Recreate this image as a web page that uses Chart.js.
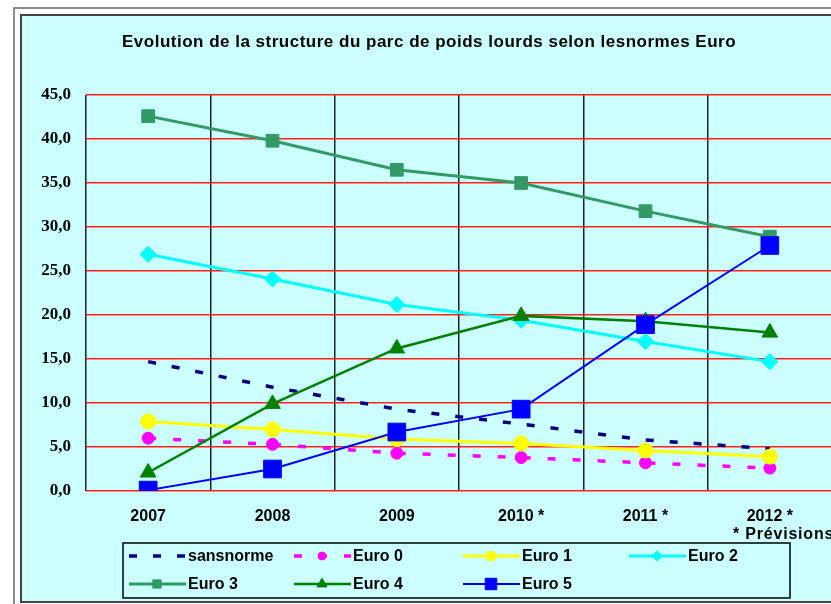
<!DOCTYPE html>
<html>
<head>
<meta charset="utf-8">
<script src="https://cdn.jsdelivr.net/npm/chart.js@4.4.0/dist/chart.umd.min.js"></script>
<style>
  html, body { margin: 0; padding: 0; overflow: hidden; background: #fff; }
  #wrap { width: 850px; height: 604px; }
</style>
</head>
<body>
<div id="wrap"><canvas id="myChart" width="850" height="604"></canvas></div>
<script>
// categories + values
const years = ['2007', '2008', '2009', '2010 *', '2011 *', '2012 *'];
const sansNorme = [14.7, 11.8, 9.3, 7.6, 5.8, 4.8];
const euro0 = [6.0, 5.3, 4.3, 3.8, 3.2, 2.6];
const euro1 = [7.9, 7.0, 5.9, 5.4, 4.6, 3.9];
const euro2 = [26.9, 24.1, 21.2, 19.4, 17.0, 14.7];
const euro3 = [42.6, 39.8, 36.5, 35.0, 31.8, 28.9];
const euro4 = [2.1, 9.9, 16.2, 19.9, 19.3, 18.0];
const euro5 = [0.1, 2.5, 6.7, 9.3, 18.9, 27.9];
const yTicks = [0, 5, 10, 15, 20, 25, 30, 35, 40, 45];

const title = 'Evolution de la structure du parc de poids lourds selon lesnormes Euro';
const note = '* Prévisions';

const mkSet = (label, data, color, width, style, radius, dash) => ({
  label: label,
  data: data,
  borderColor: color,
  backgroundColor: color,
  borderWidth: width,
  borderDash: dash || [],
  pointStyle: style,
  pointRadius: radius,
  pointHoverRadius: radius,
  pointBorderWidth: 1,
  tension: 0,
  fill: false
});

const datasets = [
  mkSet('sansnorme', sansNorme, '#000080', 3.5, false, 0, [8, 16]),
  mkSet('Euro 0', euro0, '#ff00ff', 3.5, 'circle', 6, [8, 17]),
  mkSet('Euro 1', euro1, '#ffff00', 3, 'circle', 7.5),
  mkSet('Euro 2', euro2, '#00ffff', 3, 'rectRot', 8),
  mkSet('Euro 3', euro3, '#339966', 3, 'rect', 9),
  mkSet('Euro 4', euro4, '#008000', 2.5, 'triangle', 9),
  mkSet('Euro 5', euro5, '#0000ff', 2, 'rect', 12.5)
];
// later series on top, like the original
datasets.forEach((d, i) => { d.order = -i; });

const legendPos = [[129, 556], [294, 556], [463, 556], [629, 556], [129, 584], [294, 584], [463, 584]];

const framePlugin = {
  id: 'frame',
  beforeDraw(chart) {
    const ctx = chart.ctx;
    ctx.save();
    ctx.fillStyle = '#fff';
    ctx.fillRect(0, 0, chart.width, chart.height);
    ctx.strokeStyle = '#666';
    ctx.lineWidth = 1.5;
    ctx.strokeRect(14, 8, 900, 700);
    ctx.fillStyle = '#ccffff';
    ctx.fillRect(21, 15, 900, 587);
    ctx.strokeStyle = '#444';
    ctx.lineWidth = 2;
    ctx.strokeRect(21, 15, 900, 587);
    ctx.fillStyle = '#000';
    ctx.font = 'bold 17px "Liberation Sans", Arial, sans-serif';
    ctx.letterSpacing = '0.5px';
    ctx.textAlign = 'left';
    ctx.textBaseline = 'alphabetic';
    ctx.fillText(title, 122, 47);
    ctx.restore();
  },
  afterDraw(chart) {
    const ctx = chart.ctx;
    ctx.save();
    ctx.fillStyle = '#000';
    ctx.font = 'bold 16px "Liberation Sans", Arial, sans-serif';
    ctx.letterSpacing = '0.8px';
    ctx.textBaseline = 'alphabetic';
    ctx.fillText(note, 733, 539);
    ctx.letterSpacing = '0px';

    ctx.strokeStyle = '#000';
    ctx.lineWidth = 1.5;
    ctx.setLineDash([]);
    ctx.strokeRect(123, 543, 667, 55);

    chart.data.datasets.forEach((ds, i) => {
      const [x, y] = legendPos[i];
      ctx.strokeStyle = ds.borderColor;
      ctx.fillStyle = ds.borderColor;
      ctx.lineWidth = ds.borderWidth;
      ctx.setLineDash(ds.borderDash);
      ctx.beginPath();
      ctx.moveTo(x, y);
      ctx.lineTo(x + 57, y);
      ctx.stroke();
      ctx.setLineDash([]);
      if (ds.pointRadius > 0) {
        ctx.lineWidth = 1;
        Chart.helpers.drawPoint(ctx, {
          pointStyle: ds.pointStyle,
          radius: ds.pointRadius * 0.65,
          rotation: 0,
          borderWidth: 1
        }, x + 28, y);
      }
      ctx.fillStyle = '#000';
      ctx.font = 'bold 16px "Liberation Sans", Arial, sans-serif';
      ctx.textBaseline = 'middle';
      ctx.fillText(ds.label, x + 59, y + 1);
    });
    ctx.restore();
  }
};

const creatingChart = () => {
  const ctx = document.getElementById('myChart').getContext('2d');
  new Chart(ctx, {
    type: 'line',
    data: { labels: years, datasets: datasets },
    options: {
      responsive: false,
      animation: false,
      devicePixelRatio: 1,
      layout: { padding: { left: 0, top: 95, right: 18, bottom: 0 } },
      plugins: {
        legend: { display: false },
        title: { display: false },
        tooltip: { enabled: false }
      },
      scales: {
        x: {
          offset: true,
          grid: { offset: true, color: '#222', lineWidth: 1.5, drawTicks: false },
          border: { display: false },
          ticks: {
            color: '#000',
            padding: 16,
            font: { family: '"Liberation Sans", Arial, sans-serif', size: 16, weight: 'bold' }
          },
          afterFit: (scale) => { scale.height = 113; }
        },
        y: {
          min: 0,
          max: 45,
          afterBuildTicks: (scale) => { scale.ticks = yTicks.map(v => ({ value: v })); },
          grid: { color: '#ff2020', lineWidth: 1.5, drawTicks: false },
          border: { display: false },
          ticks: {
            color: '#000',
            padding: 15,
            callback: (v) => v.toFixed(1).replace('.', ','),
            font: { family: '"Liberation Serif", "Times New Roman", serif', size: 17, weight: 'bold' }
          },
          afterFit: (scale) => { scale.width = 86; }
        }
      }
    },
    plugins: [framePlugin]
  });
};

creatingChart();
</script>
</body>
</html>
